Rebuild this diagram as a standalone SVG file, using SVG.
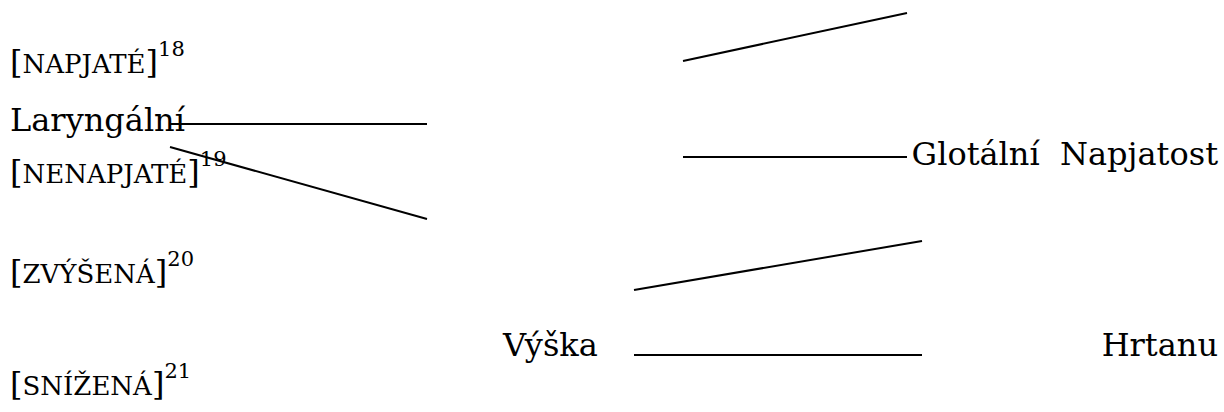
<svg xmlns="http://www.w3.org/2000/svg" width="1224" height="412" viewBox="0 0 1224 412">
  <style>
    .lbl { font-size: 32px; }
    .sc { font-size: 26px; }
    .sup { font-size: 21px; }
    .edge { stroke: #000; stroke-width: 2; fill: none; }
  </style>
  <rect width="1224" height="412" fill="#fff"/>

  <g id="connectors">
    <line class="edge" x1="170" y1="124" x2="427" y2="124"/>
    <line class="edge" x1="170" y1="147" x2="427" y2="219"/>
    <line class="edge" x1="683" y1="61" x2="907" y2="13"/>
    <line class="edge" x1="683" y1="157" x2="907" y2="157"/>
    <line class="edge" x1="634" y1="290" x2="922" y2="241"/>
    <line class="edge" x1="634" y1="355" x2="922" y2="355"/>
  </g>

  <g font-family="DejaVu Serif, Liberation Serif, serif" fill="#000">
    <g id="napjate">
      <text class="lbl" x="10" y="73">[<tspan class="sc">NAPJATÉ</tspan>]<tspan class="sup" dy="-17">18</tspan></text>
    </g>
    <g id="laryngalni">
      <text class="lbl" x="10" y="131">Laryngální</text>
    </g>
    <g id="nenapjate">
      <text class="lbl" x="10" y="183">[<tspan class="sc">NENAPJATÉ</tspan>]<tspan class="sup" dy="-17">19</tspan></text>
    </g>
    <g id="glotalni-napjatost">
      <text class="lbl" x="1218" y="165" text-anchor="end" xml:space="preserve">Glotální  Napjatost</text>
    </g>
    <g id="zvysena">
      <text class="lbl" x="10" y="283">[<tspan class="sc">ZVÝŠENÁ</tspan>]<tspan class="sup" dy="-17">20</tspan></text>
    </g>
    <g id="vyska">
      <text class="lbl" x="503" y="356">Výška</text>
    </g>
    <g id="hrtanu">
      <text class="lbl" x="1218" y="356" text-anchor="end">Hrtanu</text>
    </g>
    <g id="snizena">
      <text class="lbl" x="10" y="395">[<tspan class="sc">SNÍŽENÁ</tspan>]<tspan class="sup" dy="-17">21</tspan></text>
    </g>
  </g>
</svg>
